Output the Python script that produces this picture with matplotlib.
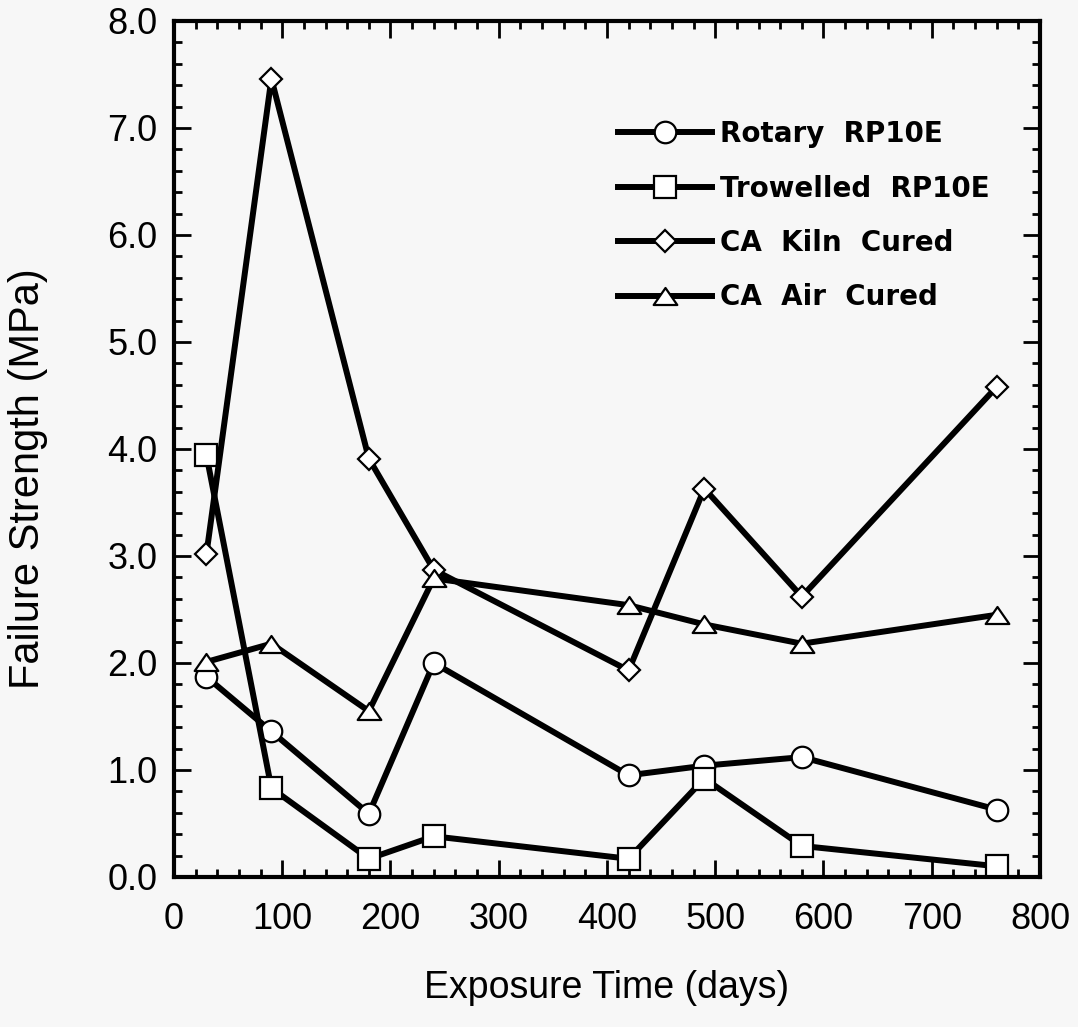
import numpy as np
import matplotlib.pyplot as plt
from matplotlib.path import Path
from matplotlib.ticker import MultipleLocator, FormatStrFormatter

plt.rcParams['font.family'] = ['Liberation Sans', 'DejaVu Sans']

# exposure time (days) and failure strength (MPa)
days = [30, 90, 180, 240, 420, 490, 580, 760]
rotary = [1.87, 1.36, 0.59, 2.00, 0.95, 1.04, 1.12, 0.63]
trowelled = [3.94, 0.83, 0.17, 0.38, 0.17, 0.92, 0.29, 0.10]
kiln = [3.02, 7.46, 3.91, 2.87, 1.93, 3.63, 2.62, 4.58]
air = [2.01, 2.18, 1.55, 2.79, 2.54, 2.36, 2.18, 2.45]

labels = ['Rotary  RP10E', 'Trowelled  RP10E', 'CA  Kiln  Cured', 'CA  Air  Cured']

bg = '#f7f7f7'
fig = plt.figure(figsize=(10.78, 10.27), dpi=100, facecolor=bg)
ax = fig.add_axes([0.1614, 0.1461, 0.8033, 0.8335], facecolor=bg)

# flattened triangle like the original
tri = Path([(0, 0.72), (-1, -0.72), (1, -0.72), (0, 0.72)],
           [Path.MOVETO, Path.LINETO, Path.LINETO, Path.CLOSEPOLY])
styles = [('o', 15.5), ('s', 15.5), ('D', 11.5), (tri, 17)]
series = [rotary, trowelled, kiln, air]

for vals, (m, ms), lab in zip(series, styles, labels):
    ax.plot(days, vals, color='black', lw=4.3, marker=m, ms=ms,
            mfc='white', mec='black', mew=1.6, label=lab)

ax.set_xlim(0, 800)
ax.set_ylim(0, 8)
ax.xaxis.set_major_locator(MultipleLocator(100))
ax.xaxis.set_minor_locator(MultipleLocator(20))
ax.yaxis.set_major_locator(MultipleLocator(1))
ax.yaxis.set_minor_locator(MultipleLocator(0.2))
ax.yaxis.set_major_formatter(FormatStrFormatter('%.1f'))

ax.tick_params(which='both', direction='in', top=True, right=True, width=2, color='black')
ax.tick_params(which='major', length=12, labelsize=26)
ax.tick_params(axis='x', which='major', pad=18)
ax.tick_params(axis='y', which='major', pad=12)
ax.tick_params(which='minor', length=6)
for s in ax.spines.values():
    s.set_linewidth(3)

ax.set_xlabel('Exposure Time (days)', fontsize=27, labelpad=24)
ax.set_ylabel('Failure Strength (MPa)', fontsize=30)
ax.yaxis.set_label_coords(-0.146, 0.465)

ax.legend(loc='upper left', bbox_to_anchor=(0.573, 0.883), bbox_transform=fig.transFigure,
          frameon=False, prop={'family': 'DejaVu Sans', 'weight': 'bold', 'size': 20},
          handlelength=3.4, handletextpad=0.3, labelspacing=0.95, borderpad=0, borderaxespad=0)

fig.savefig('out.png', dpi=100, facecolor=bg)
